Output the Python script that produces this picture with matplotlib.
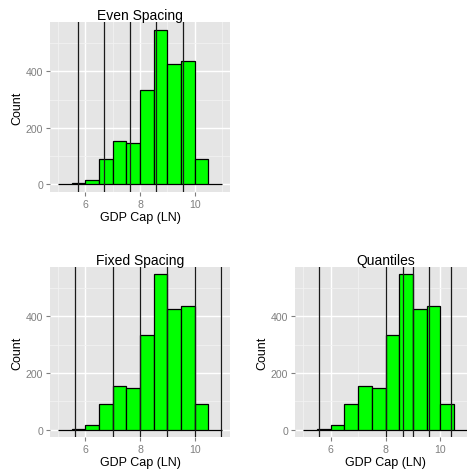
## Histograms of log GDP per capita with three different cut schemes
# plot.py
import numpy as np
import matplotlib
matplotlib.use("Agg")
import matplotlib.pyplot as plt
from matplotlib.ticker import MultipleLocator

plt.rcParams['font.family'] = ['Liberation Sans', 'DejaVu Sans']

## Histogram bins (binwidth 0.5) and counts per bin
bin_edges = [5.0, 5.5, 6.0, 6.5, 7.0, 7.5, 8.0, 8.5, 9.0, 9.5, 10.0, 10.5, 11.0]
counts = [0, 3, 15, 90, 155, 148, 333, 548, 425, 436, 90, 0]

## Cut points for each scheme
even_cuts = [5.72, 6.68, 7.64, 8.60, 9.56]
fixed_cuts = [5.63, 7.0, 8.0, 9.0, 10.0, 10.98]
quantile_cuts = [5.58, 8.01, 8.64, 8.99, 9.58, 10.37]

x_ticks = [6, 8, 10]
y_ticks = [0, 200, 400]

panel_bg = '#E5E5E5'
minor_grid = '#F2F2F2'
axis_grey = '#7F7F7F'


def draw_panel(ax, cuts, title):
	ax.set_facecolor(panel_bg)
	for s in ax.spines.values():
		s.set_visible(False)

	# grid: minor first so the major white lines sit on top
	ax.xaxis.set_minor_locator(MultipleLocator(1))
	ax.yaxis.set_minor_locator(MultipleLocator(100))
	ax.grid(which='minor', color=minor_grid, linewidth=0.6)
	ax.grid(which='major', color='white', linewidth=1.0)
	ax.set_axisbelow(True)

	lefts = bin_edges[:-1]
	widths = np.diff(bin_edges)
	ax.bar(lefts, counts, width=widths, align='edge', color='#00FF00',
		edgecolor='black', linewidth=0.9, zorder=2)

	for c in cuts:
		ax.axvline(c, color='#1a1a1a', linewidth=0.9, zorder=3)

	lo, hi = bin_edges[0], bin_edges[-1]
	pad = (hi - lo) * 0.05
	ax.set_xlim(lo - pad, hi + pad)
	top = max(counts)
	ax.set_ylim(-top * 0.05, top * 1.05)

	ax.set_xticks(x_ticks)
	ax.set_yticks(y_ticks)
	ax.tick_params(which='major', length=3, width=0.8, color=axis_grey,
		labelcolor=axis_grey, labelsize=7.6, pad=2)
	ax.tick_params(which='minor', length=0)

	ax.set_title(title, fontsize=10, pad=1.5)
	ax.set_xlabel("GDP Cap (LN)", fontsize=9, labelpad=1.5)
	ax.set_ylabel("Count", fontsize=9, labelpad=2)


fig = plt.figure(figsize=(4.67, 4.77), dpi=100)
fig.patch.set_facecolor('white')

ax1 = fig.add_axes([0.1071, 0.5954, 0.3854, 0.3564])
ax2 = fig.add_axes([0.1071, 0.0811, 0.3854, 0.3577])
ax3 = fig.add_axes([0.6317, 0.0811, 0.3876, 0.3577])

draw_panel(ax1, even_cuts, "Even Spacing")
draw_panel(ax2, fixed_cuts, "Fixed Spacing")
draw_panel(ax3, quantile_cuts, "Quantiles")

fig.savefig("out.png", dpi=100)
